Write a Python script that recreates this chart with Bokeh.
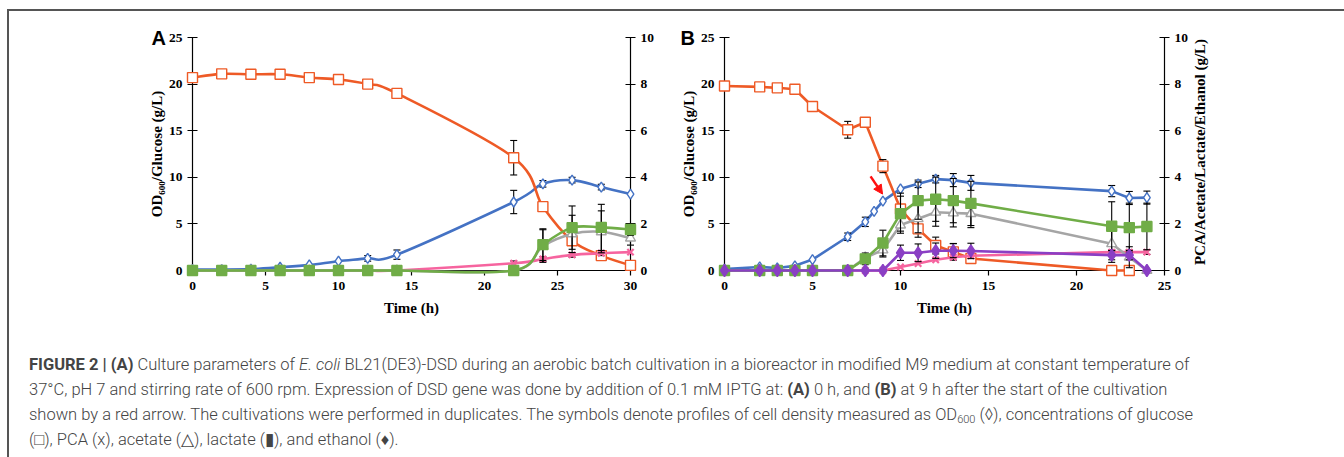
import math
from bokeh.plotting import figure
from bokeh.models import (Range1d, LinearAxis, ColumnDataSource, Arrow, NormalHead,
                          Div, FixedTicker)
from bokeh.core.properties import value
from bokeh.layouts import row, column
from bokeh.embed import file_html
from bokeh.resources import INLINE

# ---------------- data : panel A (IPTG at 0 h) ----------------
a_time = [0, 2, 4, 6, 8, 10, 12, 14, 22, 24, 26, 28, 30]
a_glucose = [20.7, 21.1, 21.05, 21.05, 20.7, 20.5, 20.0, 19.0, 12.1, 6.85, 3.2, 1.6, 0.55]
a_glucose_err = [0, 0, 0, 0, 0, 0, 0, 0.4, 1.85, 0, 0, 0, 0]
a_od = [0.1, 0.1, 0.15, 0.35, 0.6, 1.0, 1.3, 1.7, 7.35, 9.3, 9.7, 8.95, 8.2]
a_od_err = [0, 0, 0, 0, 0, 0, 0.3, 0.5, 1.25, 0.35, 0.3, 0.3, 0]
a_pca = [0, 0, 0, 0, 0, 0, 0, 0, 0.31, 0.49, 0.67, 0.74, 0.79]
a_pca_err = [0, 0, 0, 0, 0, 0, 0, 0, 0.1, 0.1, 0.1, 0.1, 0]
a_acetate = [0, 0, 0, 0, 0, 0, 0, 0, 0, 1.05, 1.57, 1.66, 1.39]
a_acetate_err = [0, 0, 0, 0, 0, 0, 0, 0, 0, 0.7, 0.8, 0.9, 0.3]
a_lactate = [0, 0, 0, 0, 0, 0, 0, 0, 0, 1.11, 1.84, 1.85, 1.76]
a_lactate_err = [0, 0, 0, 0, 0, 0, 0, 0, 0, 0.68, 0.93, 0.99, 0.25]

# ---------------- data : panel B (IPTG at 9 h) ----------------
b_time = [0, 2, 3, 4, 5, 7, 8, 9, 10, 11, 12, 13, 14, 22, 23, 24]
b_glucose_time = [0, 2, 3, 4, 5, 7, 8, 9, 10, 11, 12, 13, 14, 22, 23]
b_glucose = [19.8, 19.7, 19.6, 19.45, 17.6, 15.1, 15.9, 11.2, 6.6, 4.47, 2.68, 2.0, 1.29, 0, 0]
b_glucose_err = [0, 0.4, 0.4, 0.4, 0, 0.9, 0, 0.7, 1.7, 0.9, 0.9, 0.9, 0.5, 0, 0]
b_od_time = [0, 2, 3, 4, 5, 7, 8, 8.5, 9, 10, 11, 12, 13, 14, 22, 23, 24]
b_od = [0.15, 0.38, 0.27, 0.5, 1.17, 3.62, 5.22, 6.35, 7.44, 8.76, 9.3, 9.8, 9.7, 9.4, 8.52, 7.78, 7.82]
b_od_err = [0, 0, 0, 0, 0, 0.4, 0.5, 0, 0, 0, 0.4, 0.4, 0.7, 0.8, 0.6, 0.7, 0.7]
b_pca = [0, 0, 0, 0, 0, 0, 0, 0, 0.15, 0.3, 0.46, 0.57, 0.63, 0.79, 0.79, 0.79]
b_pca_err = [0, 0, 0, 0, 0, 0, 0, 0, 0, 0, 0, 0, 0, 0.1, 0.1, 0.1]
b_acetate = [0, 0, 0, 0, 0, 0, 0.55, 0.88, 1.95, 2.22, 2.5, 2.47, 2.44, 1.15, 0.57, 0]
b_acetate_err = [0, 0, 0, 0, 0, 0, 0, 0.3, 0.35, 0.6, 0.6, 0.6, 0.6, 0.8, 0.45, 0]
b_lactate = [0, 0, 0, 0, 0, 0, 0.5, 1.18, 2.44, 3.0, 3.06, 3.0, 2.88, 1.9, 1.84, 1.89]
b_lactate_err = [0, 0, 0, 0, 0, 0, 0.25, 0.55, 0.75, 0.8, 0.95, 0.95, 0.95, 1.05, 1.05, 1.0]
b_ethanol = [0, 0, 0, 0, 0, 0, 0, 0, 0.76, 0.76, 0.85, 0.85, 0.84, 0.66, 0.66, 0]
b_ethanol_err = [0, 0, 0, 0, 0, 0, 0, 0, 0.33, 0.38, 0.33, 0.3, 0.33, 0.2, 0.2, 0]

# induction arrow (panel B), start -> tip
arrow_time = [8.3, 8.98]
arrow_value = [10.1, 8.2]

x_ticks_a = [0, 5, 10, 15, 20, 25, 30]
x_ticks_b = [0, 5, 10, 15, 20, 25]
y_ticks_left = [0, 5, 10, 15, 20, 25]
y_ticks_right = [0, 2, 4, 6, 8, 10]

left_title = "OD\u2086\u2080\u2080/Glucose (g/L)"
right_title_b = "PCA/Acetate/Lactate/Ethanol (g/L)"

# ---------------- styles ----------------
C_GLU = "#EE5A26"
C_OD = "#4472C4"
C_PCA = "#F6649F"
C_ACE = "#A5A5A5"
C_LAC = "#70AD47"
C_ETH = "#8A3FC4"
SERIF = "Liberation Serif"
LW = 2.6
LVL = "overlay"


def style_axis(ax):
    ax.axis_line_color = "black"
    ax.axis_line_width = 1.2
    ax.major_tick_line_color = "black"
    ax.major_tick_line_width = 1.2
    ax.minor_tick_line_color = None
    ax.major_label_text_font = SERIF
    ax.major_label_text_font_style = "bold"
    ax.major_label_text_font_size = "13.5px"
    ax.major_label_text_color = "black"
    ax.axis_label_text_font = SERIF
    ax.axis_label_text_font_style = "bold"
    ax.axis_label_text_font_size = "15px"
    ax.axis_label_text_color = "black"


def make_panel(width, bl, br, xmax, xticks):
    p = figure(width=width, height=307, output_backend="svg", toolbar_location=None,
               x_range=Range1d(0, xmax), y_range=Range1d(0, 25),
               min_border_left=bl, min_border_right=br, min_border_top=26,
               min_border_bottom=48, x_axis_label="Time (h)", y_axis_label=left_title)
    p.extra_y_ranges = {"r": Range1d(0, 10)}
    ra = LinearAxis(y_range_name="r")
    p.add_layout(ra, "right")
    p.xgrid.visible = False
    p.ygrid.visible = False
    p.outline_line_color = None
    p.background_fill_color = "white"
    p.border_fill_color = "white"
    p.xaxis.ticker = FixedTicker(ticks=xticks)
    p.yaxis[0].ticker = FixedTicker(ticks=y_ticks_left)
    ra.ticker = FixedTicker(ticks=y_ticks_right)
    for ax in [p.xaxis[0], p.yaxis[0], ra]:
        style_axis(ax)
    p.xaxis.major_tick_in = 0
    p.xaxis.major_tick_out = 5
    p.xaxis.major_label_standoff = 6
    p.xaxis.axis_label_standoff = 7
    for ax in [p.yaxis[0], ra]:
        ax.major_tick_in = 5
        ax.major_tick_out = 5
        ax.major_label_standoff = 5
    p.yaxis[0].axis_label_standoff = 1
    return p


def catmull(xs, ys):
    n = len(xs)
    d = dict(x0=[], y0=[], x1=[], y1=[], cx0=[], cy0=[], cx1=[], cy1=[])
    for i in range(n - 1):
        a = max(i - 1, 0)
        b = min(i + 2, n - 1)
        d["x0"].append(xs[i]); d["y0"].append(ys[i])
        d["x1"].append(xs[i + 1]); d["y1"].append(ys[i + 1])
        d["cx0"].append(xs[i] + (xs[i + 1] - xs[a]) / 6.0)
        d["cy0"].append(ys[i] + (ys[i + 1] - ys[a]) / 6.0)
        d["cx1"].append(xs[i + 1] - (xs[b] - xs[i]) / 6.0)
        d["cy1"].append(ys[i + 1] - (ys[b] - ys[i]) / 6.0)
    return ColumnDataSource(d)


def add_err(p, xs, ys, es, kw):
    pts = [(x, max(y - e, 0), y + e) for x, y, e in zip(xs, ys, es) if e > 0]
    if not pts:
        return
    src = ColumnDataSource(dict(x=[t[0] for t in pts], lo=[t[1] for t in pts],
                                hi=[t[2] for t in pts]))
    p.segment(x0="x", y0="lo", x1="x", y1="hi", source=src, line_color="black",
              line_width=1.1, level=LVL, **kw)
    for col in ("lo", "hi"):
        p.scatter(x="x", y=col, source=src, marker="dash", size=7, line_color="black",
                  line_width=1.1, level=LVL, **kw)


def add_series(p, xs, ys, es, color, marker, size, fill, rng, smooth):
    kw = {} if rng is None else {"y_range_name": rng}
    if smooth:
        p.bezier(x0="x0", y0="y0", x1="x1", y1="y1", cx0="cx0", cy0="cy0", cx1="cx1",
                 cy1="cy1", source=catmull(xs, ys), line_color=color, line_width=LW,
                 level=LVL, **kw)
    else:
        p.line(xs, ys, line_color=color, line_width=LW, level=LVL, **kw)
    add_err(p, xs, ys, es, kw)
    lw = 2.2 if marker == "x" else 1.4
    p.scatter(xs, ys, marker=marker, size=size, fill_color=fill, line_color=color,
              line_width=lw, level=LVL, **kw)


def panel_letter(p, letter, dx):
    p.text(x=[p.x_range.start], y=[p.y_range.end], text=[letter], x_offset=dx,
           text_font=value("Liberation Sans"), text_font_style="bold",
           text_font_size="20px", text_baseline="middle", text_align="left",
           text_color="black", level="overlay")


# ---------------- panel A ----------------
pa = make_panel(661, 183, 40, 30, x_ticks_a)
add_series(pa, a_time, a_od, a_od_err, C_OD, "diamond", 10, "white", None, True)
add_series(pa, a_time, a_glucose, a_glucose_err, C_GLU, "square", 10, "white", None, True)
add_series(pa, a_time, a_pca, a_pca_err, C_PCA, "x", 9, None, "r", True)
add_series(pa, a_time, a_acetate, a_acetate_err, C_ACE, "triangle", 10, "white", "r", True)
add_series(pa, a_time, a_lactate, a_lactate_err, C_LAC, "square", 10, C_LAC, "r", True)
panel_letter(pa, "A", -41)

# ---------------- panel B ----------------
pb = make_panel(673, 54, 179, 25, x_ticks_b)
add_series(pb, b_od_time, b_od, b_od_err, C_OD, "diamond", 10, "white", None, False)
add_series(pb, b_glucose_time, b_glucose, b_glucose_err, C_GLU, "square", 10, "white", None, False)
add_series(pb, b_time, b_pca, b_pca_err, C_PCA, "x", 9, None, "r", False)
add_series(pb, b_time, b_acetate, b_acetate_err, C_ACE, "triangle", 10, "white", "r", False)
add_series(pb, b_time, b_lactate, b_lactate_err, C_LAC, "square", 10, C_LAC, "r", False)
add_series(pb, b_time, b_ethanol, b_ethanol_err, C_ETH, "diamond", 12, C_ETH, "r", False)
panel_letter(pb, "B", -44)
pb.add_layout(Arrow(x_start=arrow_time[0], y_start=arrow_value[0], x_end=arrow_time[1],
                    y_end=arrow_value[1], line_color="#FF1010", line_width=2.5, level="overlay",
                    end=NormalHead(size=9, fill_color="#FF1010", line_color="#FF1010")))
# right-hand axis title of panel B, reading bottom-to-top
pb.text(x=[pb.x_range.end], y=[(pb.y_range.start + pb.y_range.end) / 2], text=[right_title_b],
        angle=math.pi / 2, x_offset=35, y_offset=-2, text_align="center",
        text_baseline="middle", text_font=value(SERIF), text_font_style="bold",
        text_font_size="15px", text_color="black", level="overlay")

# ---------------- caption ----------------
B = '<b style="font-weight:700">'
caption_html = (
    '<div style="font-family: Roboto, \'Liberation Sans\', sans-serif; font-weight: 300; '
    'font-size: 16.5px; line-height: 25px; color: #444; white-space: nowrap; '
    'padding-top: 29px; padding-left: 15px;">'
    + B + 'FIGURE 2 | (A)</b> Culture parameters of <i>E. coli</i> '
    'BL21(DE3)-DSD during an aerobic batch cultivation in a bioreactor in modified M9 medium '
    'at constant temperature of<br>'
    '37°C, pH 7 and stirring rate of 600 rpm. Expression of DSD gene was done by addition of '
    '0.1 mM IPTG at: ' + B + '(A)</b> 0 h, and ' + B + '(B)</b> at 9 h after the start of the '
    'cultivation<br>'
    'shown by a red arrow. The cultivations were performed in duplicates. The symbols denote '
    'profiles of cell density measured as OD<sub style="font-size:11px; line-height:0; '
    'vertical-align:-3px">600</sub> (\u25CA), concentrations of glucose<br>'
    '(\u25A1), PCA (x), acetate (\u25B3), lactate (\u25AE), and ethanol (\u2666).'
    '</div>'
)
cap = Div(text=caption_html, width=1334, height=135)

layout = column(row(pa, pb), cap,
                styles={"border-top": "2px solid #555", "border-left": "2px solid #555",
                        "margin-left": "7px", "margin-top": "9px",
                        "background-color": "white"})

open("out.html", "w").write(file_html(layout, INLINE))
